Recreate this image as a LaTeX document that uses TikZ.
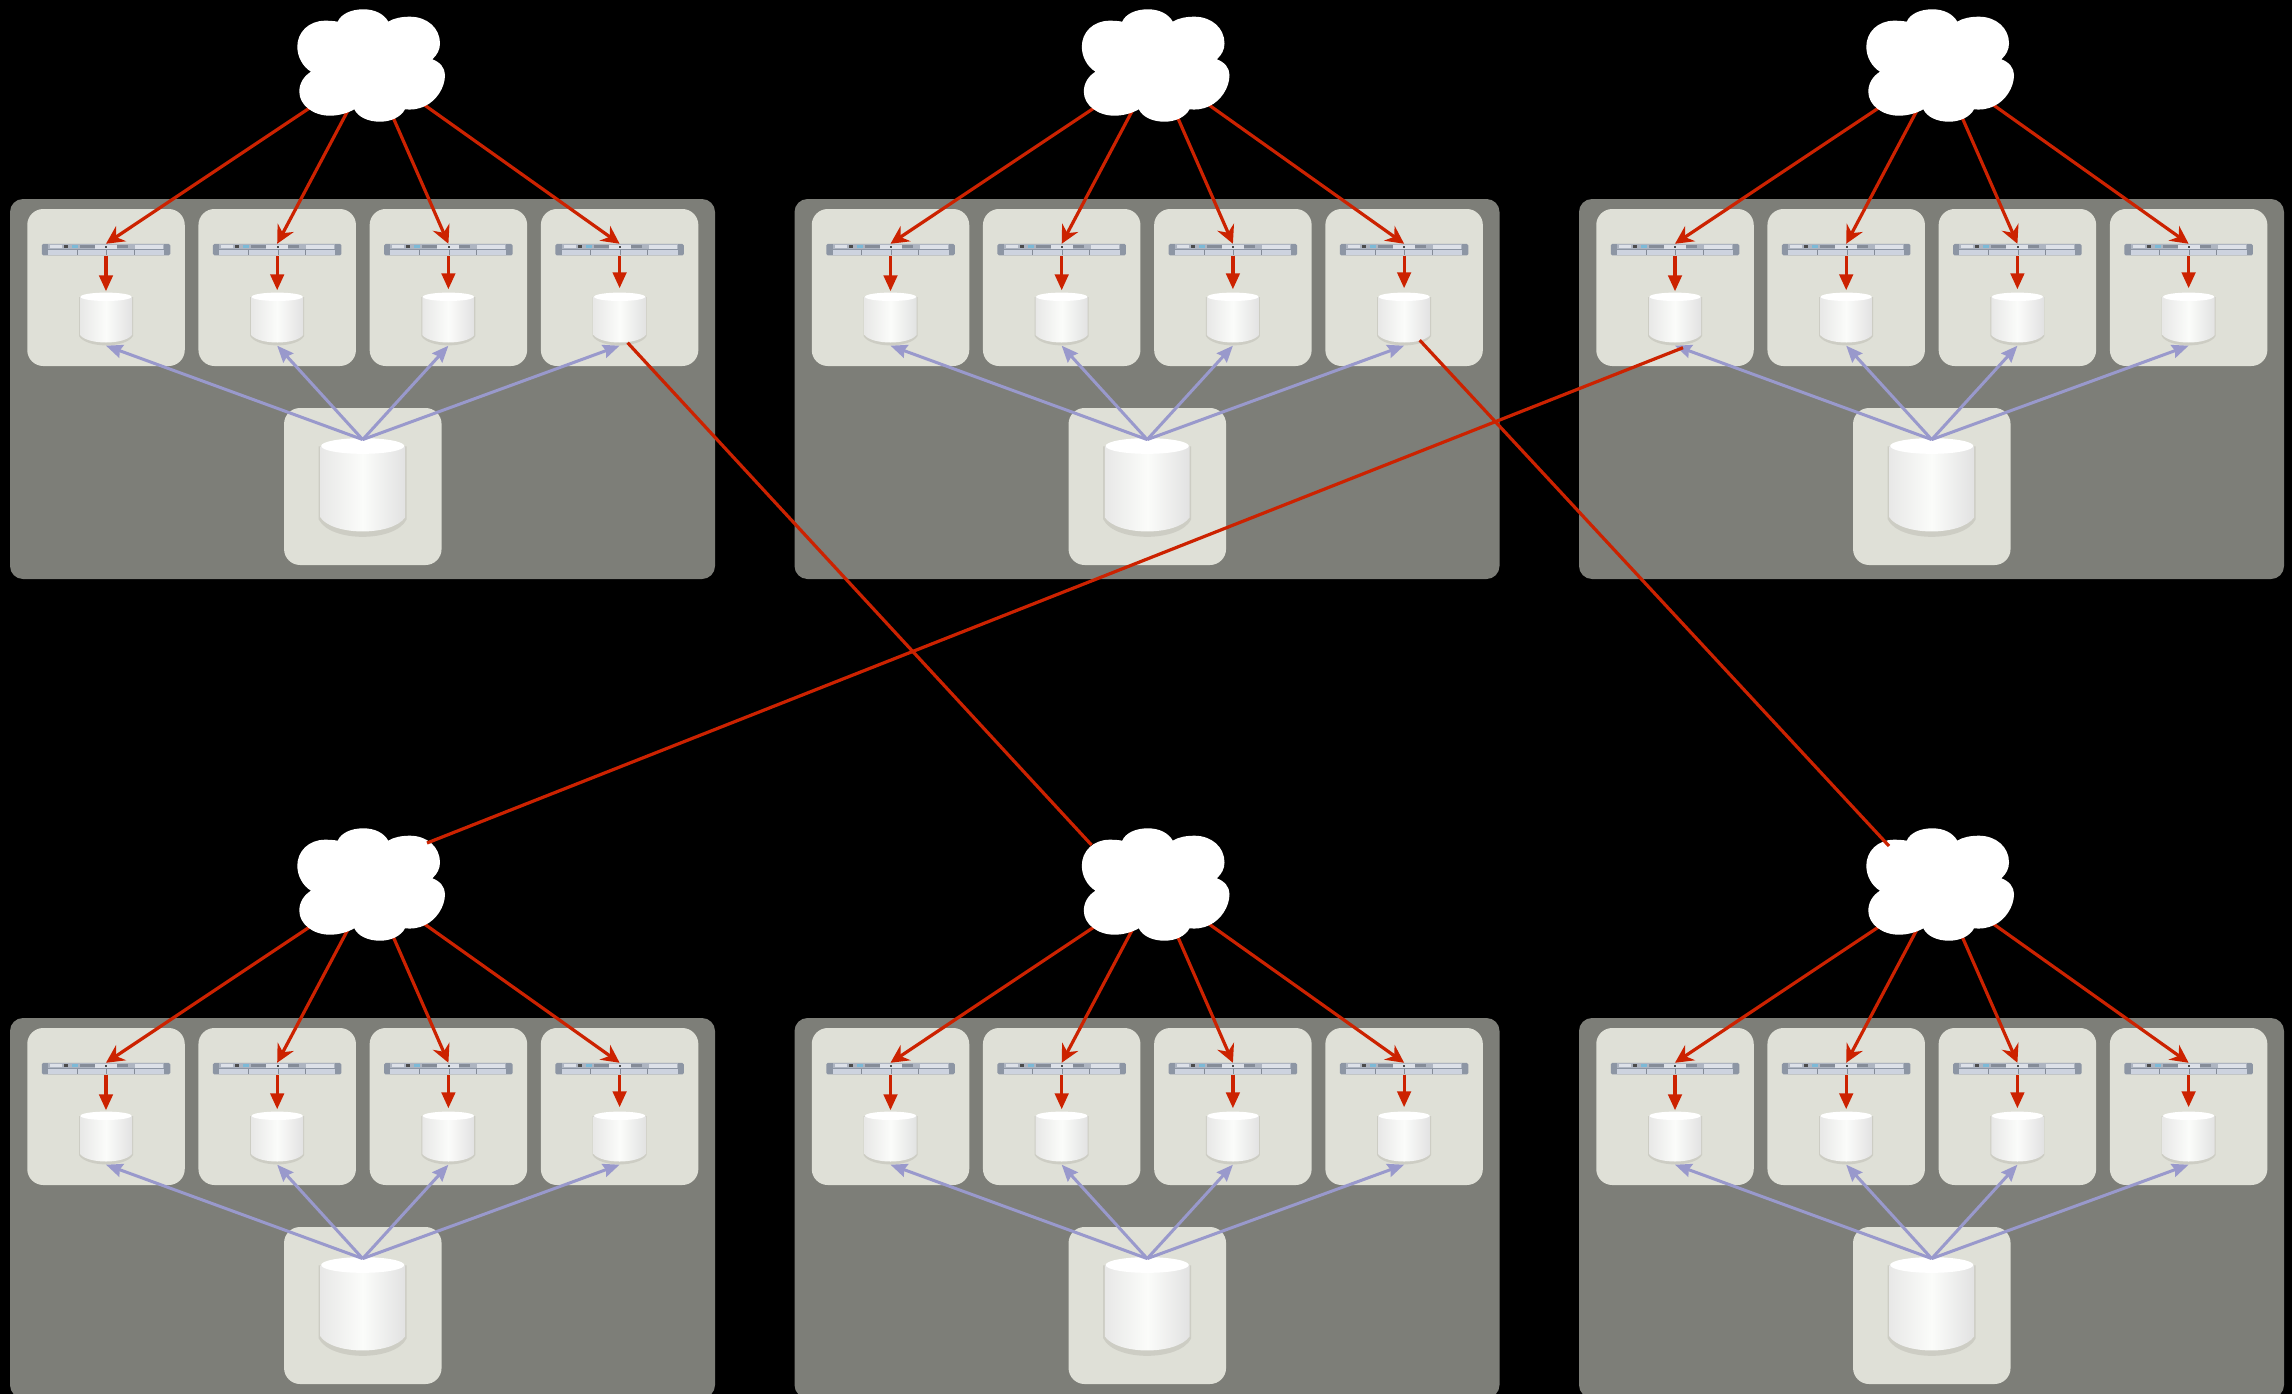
\documentclass[tikz,border=0pt]{standalone}
\usetikzlibrary{arrows.meta}
\definecolor{rackgray}{HTML}{7D7E78}
\definecolor{baygray}{HTML}{DFE0D7}
\definecolor{linkred}{HTML}{CC2200}
\definecolor{syncblue}{HTML}{9999CC}
\definecolor{diskrim}{HTML}{CDCDC4}
\definecolor{diskleft}{HTML}{E8E8E7}
\definecolor{diskmid}{HTML}{FBFCFA}
\definecolor{diskright}{HTML}{E2E2E2}
\definecolor{srvear}{HTML}{8D96A4}
\definecolor{srvtop}{HTML}{AEB5C1}
\definecolor{srvlow}{HTML}{CDD3DF}
\definecolor{srvlit}{HTML}{DDE1E8}
\definecolor{srvdark}{HTML}{858C98}
\tikzset{
	rack/.style={fill=rackgray,minimum width=705pt,minimum height=380pt,rounded corners=13pt,inner sep=0pt},
	bay/.style={fill=baygray,minimum width=157.5pt,minimum height=157pt,rounded corners=16pt,inner sep=0pt},
	feed/.style={draw=linkred,line width=3.2pt,-{Stealth[length=18pt,width=18pt,inset=6pt]}},
	drop/.style={draw=linkred,line width=3.2pt,-{Stealth[length=16pt,width=13.5pt,inset=0pt]}},
	sync/.style={draw=syncblue,line width=3pt,-{Stealth[length=16.5pt,width=13.5pt,inset=2pt]}},
	link/.style={draw=linkred,line width=3.2pt},
	pics/disk/.style={code={
		\node[transform shape,minimum width=55pt,minimum height=53pt,inner sep=0pt] (-b) at (0,0) {};
		\fill[diskrim] (-27,-22)--(-27,17) .. controls (-20,29.5) and (20,29.5) .. (27,17)--(27,-22)--cycle;
		\shade[left color=diskleft,right color=diskright,middle color=diskmid] (-26,-22)--(-26,16) .. controls (-18,26) and (18,26) .. (26,16)--(26,-22)--cycle;
		\fill[white] (0,-22.2) ellipse [x radius=25.5,y radius=4.2];
	}},
	pics/server/.style={code={
		\node[fill=srvear,minimum width=128.5pt,minimum height=11.5pt,rounded corners=1.5pt,inner sep=0pt] (-b) at (0,0) {};
		\fill[srvtop] (-58,-5.4) rectangle (58,-0.4);
		\fill[srvlow] (-58,0) rectangle (58,5.3);
		\fill[srvlit] (-56,-4.5) rectangle (-44,-1.5);
		\fill[black!70] (-42,-4.5) rectangle (-38,-1.5);
		\fill[cyan!40!srvtop] (-34,-4.5) rectangle (-28,-1.5);
		\fill[srvdark] (-26,-4.5) rectangle (-11,-1.5);
		\fill[srvlit] (-11,-5.2) rectangle (11,-0.6);
		\fill[srvdark] (11,-4.5) rectangle (22,-1.5);
		\fill[srvlit] (29,-5.2) rectangle (57,-0.6);
		\draw[srvdark,line width=0.7pt] (-29,0)--(-29,5.3) (0.7,0)--(0.7,5.3) (28,0)--(28,5.3);
		\fill[black!70] (-0.7,-3.8) rectangle (1.3,-1.8);
	}},
	pics/cloud/.style={code={
		\fill[white] (-33.3,-43.3) .. controls (-30,-51) and (-20,-55.7) .. (-7.7,-55.7) .. controls (4,-55.7) and (13,-51) .. (17.3,-43.3)
		.. controls (23,-47) and (31,-48.3) .. (39,-48.3) .. controls (56,-48.3) and (69,-37) .. (69,-21.7) .. controls (69,-15) and (66,-10) .. (61.3,-5.7)
		.. controls (69,-3) and (74,3) .. (74,10) .. controls (74,23) and (65,36) .. (54,41) .. controls (47,44.5) and (40,45) .. (34,44.3)
		.. controls (30,52) and (20,56.7) .. (9,56.7) .. controls (-3,56.7) and (-13,52) .. (-16.7,44.3)
		.. controls (-23,48) and (-32,50.7) .. (-41,50.7) .. controls (-58,50.7) and (-71.7,40) .. (-71.7,26.7) .. controls (-71.7,18) and (-67,11) .. (-60,6.7)
		.. controls (-68,2) and (-73.7,-8) .. (-73.7,-18.3) .. controls (-73.7,-33) and (-62,-44.3) .. (-46,-44.3) .. controls (-41,-44.3) and (-37,-44) .. (-33.3,-43.3)--cycle;
	}}
}
\begin{document}
\begin{tikzpicture}[x=1pt,y=-1pt,line join=round]
	\useasboundingbox (0,0) rectangle (2292,1394);
	\clip (0,0) rectangle (2292,1394);
	\fill[black] (0,0) rectangle (2292,1394);
	\foreach \n/\px/\py in {1/0/0,2/784.5/0,3/1569/0,4/0/819,5/784.5/819,6/1569/819}{
		\begin{scope}[shift={(\px,\py)}]
			\node[rack] (rack\n) at (362.5,389) {};
			\node[bay] (bigbay\n) at (362.8,486.5) {};
			\pic[xscale=1.63,yscale=1.87] (bigdsk\n) at (362.7,487.5) {disk};
			\coordinate (cld\n) at (371,67);
			\foreach \i/\xc/\tip in {1/106/1,2/277.2/2,3/448.4/3,4/619.6/4}{
				\node[bay] (bay\n\i) at (\xc,287.5) {};
				\pic (dsk\n\i) at (\xc,319) {disk};
				\pic (srv\n\i) at (\xc,249.7) {server};
				\draw[sync] ([yshift=-2pt]bigdsk\n-b.north)--(dsk\n\i-b.south);
				\draw[feed] (cld\n)--(srv\n\i-b.north);
				\draw[drop,shorten >=\tip pt] (srv\n\i-b.south)--(dsk\n\i-b.north);
			}
			\pic at (371,65) {cloud};
		\end{scope}
	}
	\coordinate (endA) at ([shift={(-64,-41)}]cld5);
	\coordinate (endB) at ([shift={(-51,-40)}]cld6);
	\coordinate (endC) at ([shift={(56,-43)}]cld4);
	\draw[link] ([shift={(8,-3)}]dsk14-b.south)--(endA);
	\draw[link] ([shift={(15.6,-5.5)}]dsk24-b.south)--(endB);
	\draw[link] ([shift={(8,2)}]dsk31-b.south)--(endC);
\end{tikzpicture}
\end{document}
